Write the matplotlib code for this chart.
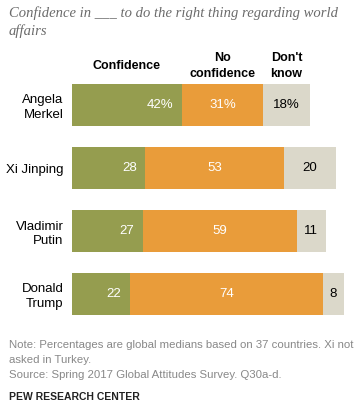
import matplotlib.pyplot as plt
from matplotlib.transforms import blended_transform_factory

# data
leaders = ['Angela\nMerkel', 'Xi Jinping', 'Vladimir\nPutin', 'Donald\nTrump']
confidence = [42, 28, 27, 22]
no_confidence = [31, 53, 59, 74]
dont_know = [18, 20, 11, 8]
headers = ['Confidence', 'No\nconfidence', "Don't\nknow"]

colors = ['#959D4F', '#E99C3A', '#DBD8CA']
W, H = 362, 417

plt.rcParams['font.family'] = ['Liberation Sans', 'DejaVu Sans']
fig = plt.figure(figsize=(W / 100, H / 100), dpi=100)
ax = fig.add_axes([72 / W, 91.5 / H, 272 / W, 252 / H])

rows = range(len(leaders))
left2 = [a for a in confidence]
left3 = [a + b for a, b in zip(confidence, no_confidence)]
ax.barh(rows, confidence, height=0.68, color=colors[0])
ax.barh(rows, no_confidence, left=left2, height=0.68, color=colors[1])
ax.barh(rows, dont_know, left=left3, height=0.68, color=colors[2])

fs = 9.5
for i in rows:
    first = i == 0
    lab = lambda v: f'{v}%' if first else f'{v}'
    ax.text(confidence[i] - 3.3, i, lab(confidence[i]), ha='right', va='center',
            color='white', fontsize=fs)
    ax.text(left2[i] + no_confidence[i] / 2, i, lab(no_confidence[i]), ha='center',
            va='center', color='white', fontsize=fs)
    ax.text(left3[i] + dont_know[i] / 2, i, lab(dont_know[i]), ha='center',
            va='center', color='black', fontsize=fs)

ax.set_xlim(0, 104)
ax.set_ylim(3.5, -0.5)
ax.set_yticks(list(rows))
ax.set_yticklabels(leaders, fontsize=fs, linespacing=1.3)
ax.tick_params(axis='y', length=0, pad=6)
ax.set_xticks([])
for s in ax.spines.values():
    s.set_visible(False)

# column headers over the first row
trans = blended_transform_factory(ax.transData, fig.transFigure)
hx = [confidence[0] / 2, left2[0] + no_confidence[0] / 2, left3[0] + dont_know[0] / 2]
for x, h in zip(hx, headers):
    ax.text(x, 1 - 66 / H, h, transform=trans, ha='center', va='center',
            fontsize=9, fontweight='bold', linespacing=1.35)

fig.text(9 / W, 1 - 13 / H, 'Confidence in ___ to do the right thing regarding world',
         fontsize=10.5, style='italic', family='Liberation Serif', color='#6b6b6b', va='center')
fig.text(9 / W, 1 - 31 / H, 'affairs',
         fontsize=10.5, style='italic', family='Liberation Serif', color='#6b6b6b', va='center')

notes = ['Note: Percentages are global medians based on 37 countries. Xi not',
         'asked in Turkey.',
         'Source: Spring 2017 Global Attitudes Survey. Q30a-d.']
for k, t in enumerate(notes):
    fig.text(9 / W, 1 - (345 + k * 15) / H, t, fontsize=8.2, color='#888888', va='center')
fig.text(9 / W, 1 - 397 / H, 'PEW RESEARCH CENTER', fontsize=7.5, fontweight='bold',
         color='#222222', va='center')

fig.savefig('out.png', dpi=100)
